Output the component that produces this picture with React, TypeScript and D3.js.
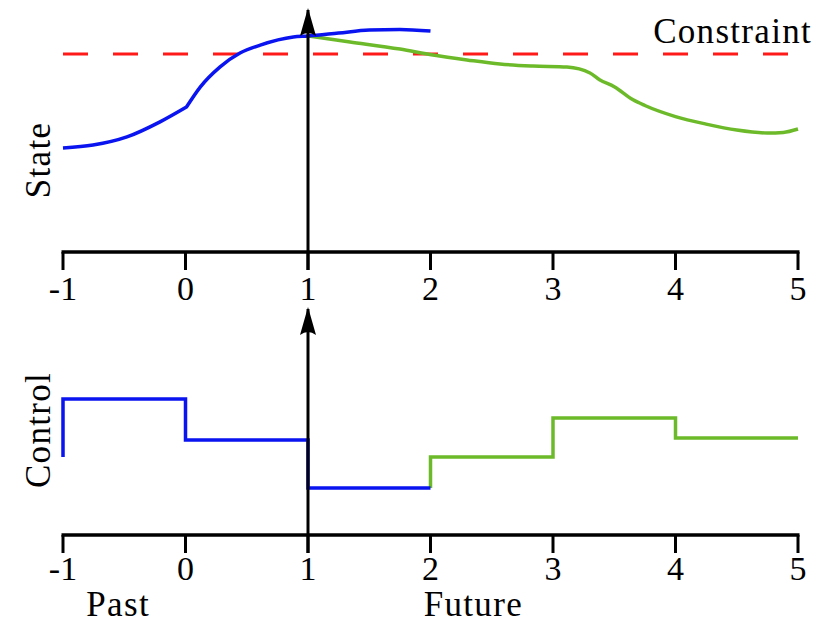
import React, { useEffect, useRef } from "react";
import * as d3 from "d3";

// time axis
const ticks = [-1, 0, 1, 2, 3, 4, 5];

// state (constraint = 1); past trajectory has a kink at t = 0
const pastStateT1 = [-1, -0.755, -0.478, -0.208, 0.008];
const pastState1 = [0.525, 0.54, 0.581, 0.657, 0.732];
const pastStateT2 = [0.008, 0.12, 0.28, 0.445, 0.61, 0.88, 1, 1.25, 1.5, 1.75, 2];
const pastState2 = [0.732, 0.833, 0.934, 1.005, 1.045, 1.086, 1.091, 1.106, 1.121, 1.124, 1.116];
const futureStateT = [1, 1.343, 1.751, 2.02, 2.298, 2.567, 2.837, 3.114, 3.302, 3.38, 3.5, 3.65, 3.75, 4, 4.25, 4.5, 4.75, 4.88, 5];
const futureState = [1.091, 1.061, 1.025, 0.995, 0.97, 0.949, 0.939, 0.934, 0.904, 0.87, 0.835, 0.77, 0.74, 0.684, 0.646, 0.616, 0.601, 0.604, 0.621];
const constraint = 1;

// control, drawn as steps
const pastControlT = [-1, -1, 0, 1, 2];
const pastControl = [0.39, 0.68, 0.475, 0.235, 0.235];
const futureControlT = [2, 2, 3, 4, 5];
const futureControl = [0.235, 0.39, 0.585, 0.485, 0.485];

const BLUE = "#0a14f0";
const GREEN = "#6cba2a";
const RED = "#ff1a1a";
const FONT = "'Liberation Serif', serif";

export default function App() {
  const ref = useRef<SVGSVGElement>(null);

  useEffect(() => {
    const svg = d3.select(ref.current);
    svg.selectAll("*").remove();

    const width = 819;
    const height = 624;
    svg.attr("width", width).attr("height", height);

    const x = d3.scaleLinear().domain([-1, 5]).range([63, 798]);
    const yState = d3.scaleLinear().domain([0, 1]).range([252, 54]);
    const yCtrl = d3.scaleLinear().domain([0, 1]).range([535, 335]);

    svg.append("defs").append("marker")
      .attr("id", "arrow")
      .attr("viewBox", "0 0 16 30")
      .attr("refX", 8).attr("refY", 2)
      .attr("markerWidth", 16).attr("markerHeight", 30)
      .attr("markerUnits", "userSpaceOnUse")
      .attr("orient", "0")
      .append("path")
      .attr("d", "M8,0 L16,28 Q8,22 0,28 Z")
      .attr("fill", "#000");

    const drawAxis = (y0: number, labelY: number) => {
      const g = svg.append("g");
      g.append("line")
        .attr("x1", x(-1) - 1.5).attr("x2", x(5) + 1.5)
        .attr("y1", y0).attr("y2", y0)
        .attr("stroke", "#000").attr("stroke-width", 3.5);
      g.selectAll(".tick").data(ticks).join("line")
        .attr("x1", d => x(d)).attr("x2", d => x(d))
        .attr("y1", y0).attr("y2", y0 + 18)
        .attr("stroke", "#000").attr("stroke-width", 3);
      g.selectAll(".lbl").data(ticks).join("text")
        .attr("x", d => x(d)).attr("y", labelY)
        .attr("text-anchor", "middle")
        .style("font-family", FONT).style("font-size", "34px")
        .text(d => String(d));
    };

    // state panel
    svg.append("line")
      .attr("x1", x(-1)).attr("x2", x(5))
      .attr("y1", yState(constraint)).attr("y2", yState(constraint))
      .attr("stroke", RED).attr("stroke-width", 3)
      .attr("stroke-dasharray", "25,25");

    const curve = (ts: number[], vs: number[]) =>
      d3.line<number>().curve(d3.curveMonotoneX)
        .x((_, i) => x(ts[i])).y(d => yState(d))(vs) as string;

    svg.append("path")
      .attr("d", curve(futureStateT, futureState))
      .attr("fill", "none").attr("stroke", GREEN).attr("stroke-width", 3.5);
    svg.append("path")
      .attr("d", curve(pastStateT1, pastState1) + curve(pastStateT2, pastState2).replace(/^M/, "L"))
      .attr("fill", "none").attr("stroke", BLUE).attr("stroke-width", 3.5)
      .attr("stroke-linejoin", "round");

    drawAxis(yState(0), 300);
    svg.append("line")
      .attr("x1", x(1)).attr("x2", x(1))
      .attr("y1", yState(0) + 18).attr("y2", 10)
      .attr("stroke", "#000").attr("stroke-width", 3)
      .attr("marker-end", "url(#arrow)");

    // control panel
    const ctrlLine = d3.line<number>().curve(d3.curveStepAfter);
    svg.append("path")
      .attr("d", ctrlLine.x((_, i) => x(futureControlT[i])).y(d => yCtrl(d))(futureControl))
      .attr("fill", "none").attr("stroke", GREEN).attr("stroke-width", 3.5);
    svg.append("path")
      .attr("d", ctrlLine.x((_, i) => x(pastControlT[i])).y(d => yCtrl(d))(pastControl))
      .attr("fill", "none").attr("stroke", BLUE).attr("stroke-width", 3.5);

    drawAxis(yCtrl(0), 580);
    svg.append("line")
      .attr("x1", x(1)).attr("x2", x(1))
      .attr("y1", yCtrl(0) + 18).attr("y2", 309)
      .attr("stroke", "#000").attr("stroke-width", 3)
      .attr("marker-end", "url(#arrow)");

    // texts
    const txt = (s: string, tx: number, ty: number, anchor: string, rot = 0) =>
      svg.append("text")
        .attr("transform", `translate(${tx},${ty}) rotate(${rot})`)
        .attr("text-anchor", anchor)
        .style("font-family", FONT).style("font-size", "35px")
        .style("letter-spacing", "1.3px")
        .text(s);

    txt("Constraint", 812, 43, "end");
    txt("State", 50, 160, "middle", -90);
    txt("Control", 50, 430, "middle", -90);
    txt("Past", x(-0.55), 616, "middle");
    txt("Future", x(2.35), 616, "middle");
  }, []);

  return (
    <div style={{ position: "absolute", left: 0, top: 0 }}>
      <svg ref={ref} style={{ display: "block", background: "#fff" }}></svg>
    </div>
  );
}
